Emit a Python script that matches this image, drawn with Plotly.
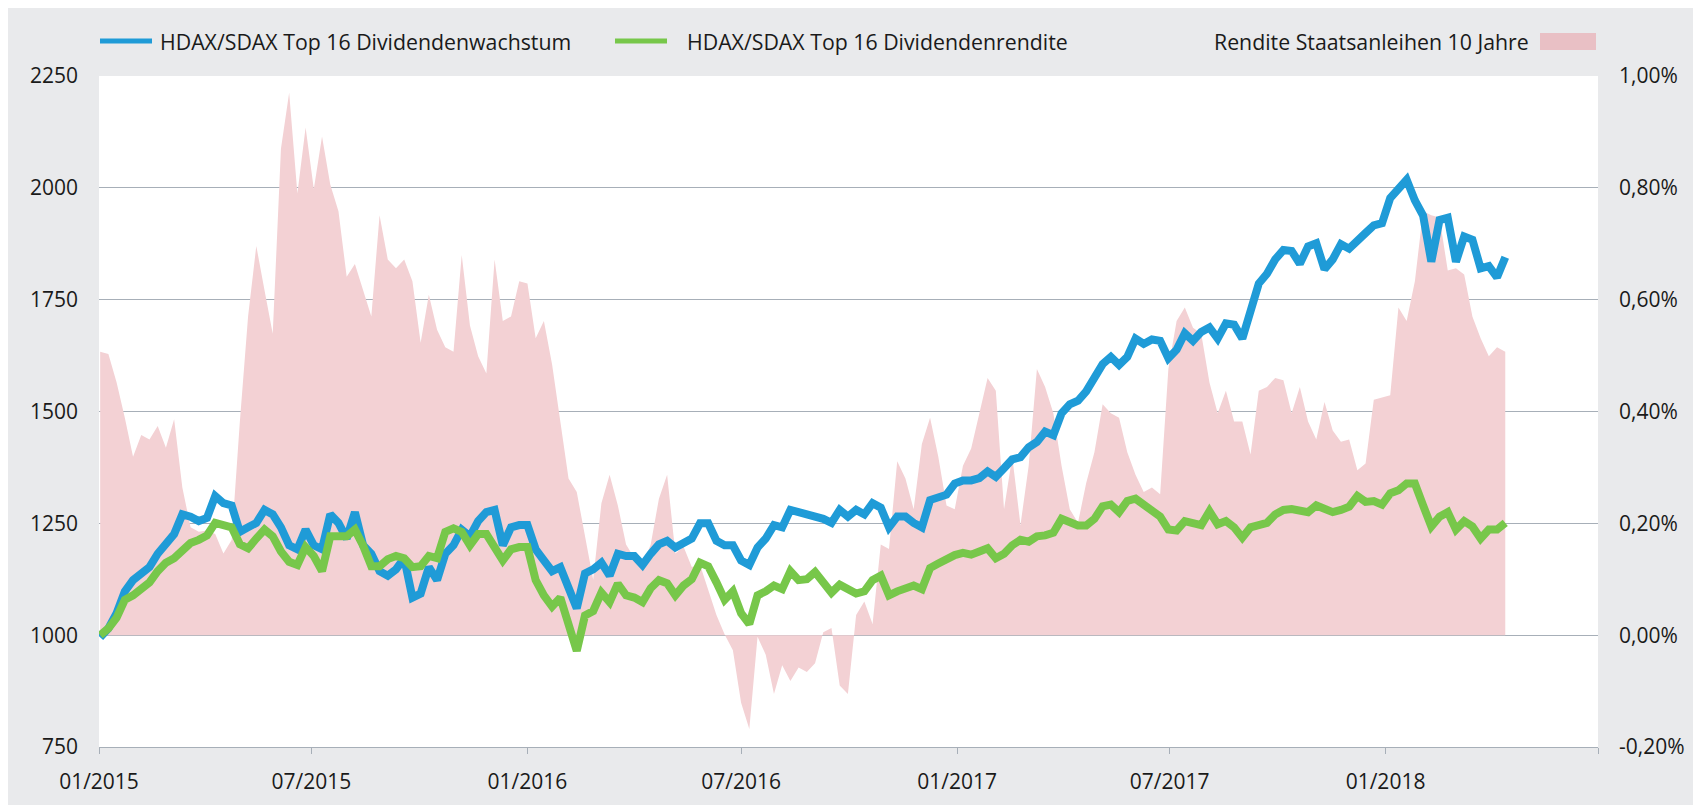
import pandas as pd
import plotly.graph_objects as go

start_date = "2015-01-02"

wachstum = [995,1015,1049,1098,1123,1138,1152,1182,1201,1226,1270,1265,1255,1262,1311,1295,1290,1231,1241,1251,1280,1270,1241,1201,1192,1236,1201,1192,1270,
            1251,1216,1275,1201,1182,1143,1133,1147,1172,1084,1093,1152,1123,1182,1201,1236,1221,1255,1275,1280,1201,1241,1246,1246,1192,1167,1143,1152,1110,
            1060,1138,1147,1162,1133,1182,1177,1177,1157,1182,1203,1211,1196,1206,1216,1250,1250,1211,1201,1201,1167,1157,1196,1216,1246,1241,1280,1275,1270,
            1268,1260,1251,1280,1265,1280,1270,1295,1285,1241,1265,1265,1251,1241,1302,1307,1314,1339,1346,1346,1351,1366,1354,1373,1393,1398,1420,1432,
            1455,1447,1496,1516,1524,1545,1575,1606,1622,1604,1622,1663,1651,1661,1658,1619,1638,1675,1658,1678,1688,1663,1697,1694,1663,1732,1786,1808,1840,
            1861,1859,1830,1869,1876,1818,1840,1874,1864,1884,1899,1916,1921,1977,1997,2018,1972,1938,1835,1928,1933,1835,1891,1884,1820,1825,1800,1845]

rendite = [1000,1015,1039,1079,1089,1101,1118,1143,1162,1172,1192,1206,1213,1223,1251,1246,1241,1203,1194,1216,1236,1221,1187,1164,1157,1197,1177,1143,1221,
           1221,1221,1236,1200,1154,1154,1170,1177,1172,1152,1154,1177,1172,1231,1239,1231,1201,1226,1226,1197,1167,1192,1197,1197,1123,1089,1064,1084,1022,
           965,1044,1054,1095,1074,1115,1089,1084,1074,1105,1123,1116,1089,1111,1125,1162,1154,1118,1079,1098,1049,1025,1089,1098,1111,1103,1143,1123,1125,
           1141,1118,1095,1113,1105,1093,1098,1123,1133,1089,1098,1103,1111,1103,1150,1160,1172,1179,1184,1180,1187,1194,1172,1182,1201,1213,1209,1221,
           1223,1229,1260,1251,1245,1245,1260,1288,1292,1275,1300,1305,1290,1280,1265,1236,1234,1255,1249,1246,1277,1248,1255,1241,1218,1241,1246,1251,1270,
           1280,1282,1280,1275,1290,1280,1275,1280,1287,1311,1298,1300,1292,1317,1324,1339,1339,1290,1243,1265,1275,1236,1255,1243,1216,1236,1236,1251]

staatsanleihen = [0.507,0.503,0.452,0.389,0.319,0.358,0.350,0.374,0.335,0.386,0.264,0.193,0.185,0.187,0.181,0.146,0.170,0.382,0.570,0.696,0.617,0.539,0.870,0.970,0.790,0.908,0.798,0.892,0.806,
                  0.758,0.641,0.664,0.617,0.570,0.751,0.672,0.656,0.672,0.633,0.523,0.609,0.546,0.515,0.507,0.680,0.554,0.499,0.468,0.672,0.562,0.570,0.633,0.629,0.531,0.562,0.484,0.382,0.280,
                  0.256,0.177,0.099,0.236,0.287,0.232,0.162,0.138,0.126,0.162,0.244,0.287,0.146,0.158,0.122,0.126,0.083,0.036,0.001,-0.027,-0.121,-0.168,-0.003,-0.035,-0.105,-0.054,-0.082,-0.058,-0.066,
                  -0.050,0.005,0.013,-0.090,-0.105,0.036,0.060,0.020,0.162,0.154,0.311,0.280,0.225,0.342,0.389,0.319,0.232,0.225,0.303,0.334,0.397,0.460,0.437,0.225,0.319,0.197,0.303,0.476,
                  0.444,0.397,0.303,0.225,0.201,0.272,0.327,0.413,0.397,0.389,0.327,0.287,0.256,0.264,0.252,0.476,0.562,0.586,0.550,0.539,0.452,0.397,0.437,0.382,0.382,0.323,0.437,0.444,0.460,
                  0.456,0.397,0.444,0.382,0.350,0.417,0.366,0.346,0.350,0.295,0.307,0.421,0.425,0.429,0.586,0.562,0.633,0.758,0.751,0.747,0.652,0.656,0.645,0.570,0.531,0.499,0.515,0.507]

dates = pd.date_range(start_date, periods=len(wachstum), freq="7D")

tick_dates = ["2015-01-01", "2015-07-01", "2016-01-01", "2016-07-01",
              "2017-01-01", "2017-07-01", "2018-01-01", "2018-07-01"]
tick_labels = ["01/2015", "07/2015", "01/2016", "07/2016",
               "01/2017", "07/2017", "01/2018", ""]

name_blue = "HDAX/SDAX Top 16 Dividendenwachstum"
name_green = "HDAX/SDAX Top 16 Dividendenrendite"
name_pink = "Rendite Staatsanleihen 10 Jahre"

BLUE = "#1f9bd7"
GREEN = "#77c74a"
PINK = "#f3d1d4"
PINK_LEG = "#e9c0c5"
BG = "#e9eaec"
GRID = "#a7afb8"
FONT = "Open Sans"
TXT = "#1a1a1a"

fig = go.Figure()
fig.add_trace(go.Scatter(x=dates, y=staatsanleihen, yaxis="y", mode="lines",
                         line=dict(width=0, color=PINK), fill="tozeroy",
                         fillcolor=PINK, name=name_pink, showlegend=False))
fig.add_trace(go.Scatter(x=dates, y=wachstum, yaxis="y2", mode="lines",
                         line=dict(width=8, color=BLUE), name=name_blue, showlegend=False))
fig.add_trace(go.Scatter(x=dates, y=rendite, yaxis="y2", mode="lines",
                         line=dict(width=8, color=GREEN), name=name_green, showlegend=False))

# plot area in page pixels: x 99..1598, y 76..747
W, H = 1499.0, 671.0
def px(x):
    return (x - 99) / W
def py(y):
    return 1 + (76 - y) / H

ly = py(41)
shapes = [
    dict(type="line", xref="paper", yref="paper", x0=px(100), x1=px(152), y0=ly, y1=ly,
         line=dict(color=BLUE, width=5)),
    dict(type="line", xref="paper", yref="paper", x0=px(615), x1=px(667), y0=ly, y1=ly,
         line=dict(color=GREEN, width=5)),
    dict(type="rect", xref="paper", yref="paper", x0=px(1540), x1=px(1596), y0=py(50), y1=py(33),
         fillcolor=PINK_LEG, line=dict(width=0)),
]
annotations = [
    dict(xref="paper", yref="paper", x=px(158), y=ly, text=name_blue, showarrow=False,
         xanchor="left", yanchor="middle", font=dict(family=FONT, size=21.3, color=TXT)),
    dict(xref="paper", yref="paper", x=px(685), y=ly, text=name_green, showarrow=False,
         xanchor="left", yanchor="middle", font=dict(family=FONT, size=21.3, color=TXT)),
    dict(xref="paper", yref="paper", x=px(1531), y=ly, text=name_pink, showarrow=False,
         xanchor="right", yanchor="middle", font=dict(family=FONT, size=21.3, color=TXT)),
]

fig.update_layout(
    width=1693, height=797,
    margin=dict(l=91, r=103, t=68, b=58, pad=0, autoexpand=False),
    paper_bgcolor=BG, plot_bgcolor="white",
    font=dict(family=FONT, size=21, color=TXT),
    shapes=shapes, annotations=annotations,
    xaxis=dict(type="date", range=["2015-01-01", "2018-07-01"],
               tickvals=tick_dates, ticktext=tick_labels,
               showgrid=False, zeroline=False, automargin=False,
               showline=True, linecolor=GRID, linewidth=1,
               ticks="outside", ticklen=6, tickcolor=GRID,
               ticklabelstandoff=10),
    yaxis=dict(range=[-0.2, 1.0], tickvals=[-0.2, 0, 0.2, 0.4, 0.6, 0.8, 1.0],
               ticktext=["-0,20%", "0,00%", "0,20%", "0,40%", "0,60%", "0,80%", "1,00%"],
               side="right", showgrid=False, zeroline=False, automargin=False,
               showline=False, ticks="", ticklabelstandoff=20),
    yaxis2=dict(range=[750, 2250], tickvals=[750, 1000, 1250, 1500, 1750, 2000, 2250],
                overlaying="y", side="left",
                showgrid=True, gridcolor=GRID, gridwidth=1, zeroline=False, automargin=False,
                showline=False, ticks="", ticklabelstandoff=20),
)

fig.write_html("out.html")
